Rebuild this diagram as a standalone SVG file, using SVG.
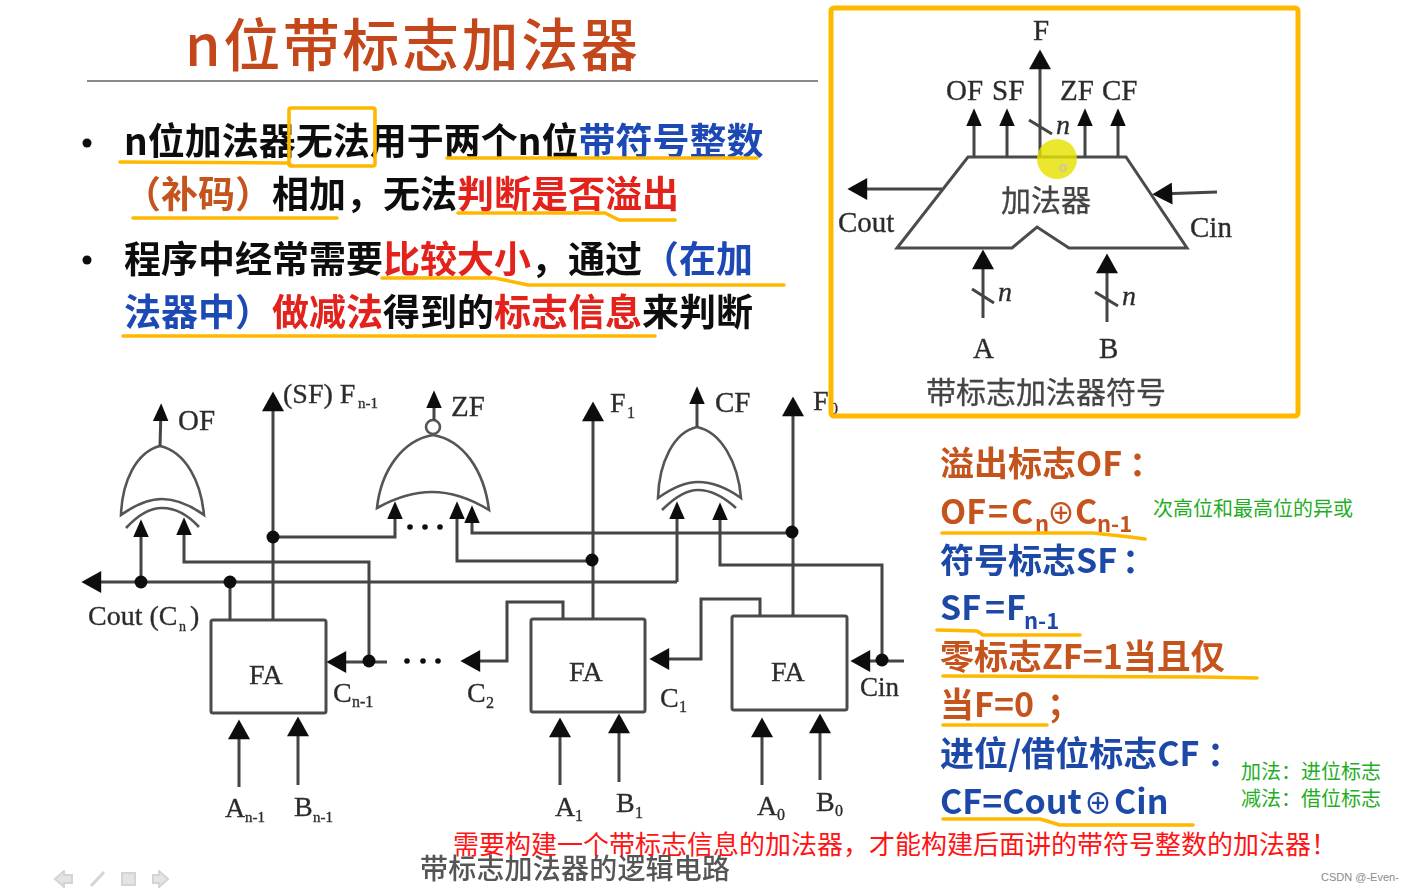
<svg xmlns="http://www.w3.org/2000/svg" width="1411" height="891" viewBox="0 0 1411 891">
<style>
text{font-family:"Noto Sans CJK SC","Noto Sans",sans-serif}
.soft{filter:url(#blur)}
.h{font-size:37px;font-weight:700;fill:#111}
.r{fill:#e3201c}.bl{fill:#1c48b4}.or{fill:#c4531f}
.s{font-family:"Liberation Serif","Noto Sans CJK SC",serif;fill:#2c2c2c;font-size:28px;stroke:#333;stroke-width:.35}
.cn{fill:#444;font-size:30px;stroke:#444;stroke-width:.3}
.f{font-size:34px;font-weight:700}
.fo{fill:#c5521f}.fb{fill:#1f4aa8}
.green{font-size:20px;fill:#1fae1f}
.w{fill:none;stroke:#444;stroke-width:3}
.g{fill:none;stroke:#555;stroke-width:2.6}
.box{fill:#fff;stroke:#4c4c4c;stroke-width:3}
.big{marker-end:url(#big)}
.sm{marker-end:url(#sm)}
.y{fill:none;stroke:#ffb800;stroke-width:3.6;stroke-linecap:round;stroke-linejoin:round}
.d{fill:#111}
</style>
<defs>
<filter id="blur" x="-5%" y="-5%" width="110%" height="110%"><feGaussianBlur stdDeviation="0.6"/></filter>
<marker id="big" markerUnits="userSpaceOnUse" markerWidth="22" markerHeight="22" viewBox="0 0 18 20" refX="12" refY="10" orient="auto"><path d="M0 0L18 10L0 20Z" fill="#111"/></marker>
<marker id="sm" markerUnits="userSpaceOnUse" markerWidth="18" markerHeight="16" viewBox="0 0 16 14" refX="10" refY="7" orient="auto"><path d="M0 0L16 7L0 14Z" fill="#111"/></marker>
</defs>
<rect width="1411" height="891" fill="#fff"/>

<g id="title" class="soft">
<text x="185" y="66" font-size="57" font-weight="500" letter-spacing="2.6" fill="#c4461a">n位带标志加法器</text>
<path d="M87 81H818" stroke="#8a8a8a" stroke-width="2"/>
</g>

<g id="bullets" class="soft">
<circle cx="87" cy="143" r="4.5" fill="#111"/><circle cx="87" cy="260" r="4.5" fill="#111"/>
<text class="h" x="124" y="155">n位加法器无法用于两个n位<tspan class="bl">带符号整数</tspan></text>
<text class="h" x="124" y="208"><tspan class="or">（补码）</tspan>相加，无法<tspan class="r">判断是否溢出</tspan></text>
<text class="h" x="124" y="273">程序中经常需要<tspan class="r">比较大小</tspan>，通过<tspan class="bl">（在加</tspan></text>
<text class="h" x="124" y="326"><tspan class="bl">法器中）</tspan><tspan class="r">做减法</tspan>得到的<tspan class="r">标志信息</tspan>来判断</text>
</g>
<g id="bullet-marks">
<path class="y" d="M120 162L288 163L292 166"/>
<path class="y" d="M447 158H757"/>
<rect class="y" x="289" y="108" width="86" height="58" rx="2"/>
<path class="y" d="M133 218H337"/>
<path class="y" d="M458 213H605L619 220H675"/>
<path class="y" d="M382 278H495L528 285H784"/>
<path class="y" d="M123 336H655"/>
</g>

<g id="symbol" class="soft">
<path d="M968 157H1126L1187 248H1069L1037 227L1012 248H897Z" fill="#fff" stroke="#4c4c4c" stroke-width="3"/>
<text class="cn" x="1001" y="211">加法器</text>
<text class="cn" x="926" y="403">带标志加法器符号</text>
<text class="s" x="1033" y="40" style="font-size:29px">F</text>
<text class="s" x="946" y="100" style="font-size:29px">OF</text>
<text class="s" x="992" y="100" style="font-size:29px">SF</text>
<text class="s" x="1060" y="100" style="font-size:29px">ZF</text>
<text class="s" x="1102" y="100" style="font-size:29px">CF</text>
<text class="s" x="838" y="232" style="font-size:29px">Cout</text>
<text class="s" x="1190" y="237" style="font-size:29px">Cin</text>
<text class="s" x="973" y="358" style="font-size:29px">A</text>
<text class="s" x="1099" y="358" style="font-size:29px">B</text>
<text class="s" x="1056" y="134" font-style="italic">n</text>
<text class="s" x="998" y="301" font-style="italic">n</text>
<text class="s" x="1122" y="305" font-style="italic">n</text>
</g>
<g id="symbol-connectors" class="soft">
<path class="w big" d="M1040 157V56"/>
<path class="w sm" d="M974 157V115"/>
<path class="w sm" d="M1007 157V115"/>
<path class="w sm" d="M1085 157V115"/>
<path class="w sm" d="M1118 157V115"/>
<path class="w big" d="M942 189H854"/>
<path class="w big" d="M1217 192L1159 194"/>
<path class="w big" d="M983 318V256"/>
<path class="w big" d="M1107 322V260"/>
<path class="w" d="M1029 120L1052 134M972 289L994 303M1095 292L1118 306"/>
</g>
<g id="pointer">
<circle cx="1057" cy="159" r="20" fill="#e6e000" opacity="0.82"/>
<circle cx="1063" cy="168" r="3" fill="none" stroke="#cfc890" stroke-width="2"/>
</g>

<g id="circuit-nodes" class="soft">
<g id="gate-of">
<path class="g" d="M160 446C136 452 122 482 121 515C135 505 148 499 162 499C176 499 190 505 204 515C201 482 186 452 160 446Z"/>
<path class="g" d="M126 528C138 515 150 508 162 508C175 508 188 515 199 527"/>
</g>
<g id="gate-zf">
<path class="g" d="M433 435C403 440 381 470 377 508C395 498 413 492 432 492C452 492 471 499 489 510C484 470 463 440 433 435Z"/>
<circle class="g" cx="433" cy="427" r="7"/>
</g>
<g id="gate-cf">
<path class="g" d="M697 427C674 432 659 462 658 498C672 488 685 482 698 482C712 482 727 488 741 498C738 462 721 432 697 427Z"/>
<path class="g" d="M662 510C675 497 687 490 698 490C711 490 724 497 736 508"/>
</g>
<g id="fa-n1"><rect class="box" x="211" y="620" width="115" height="93" rx="2"/><text class="s" x="249" y="684">FA</text></g>
<g id="fa-1"><rect class="box" x="531" y="619" width="114" height="93" rx="2"/><text class="s" x="569" y="681">FA</text></g>
<g id="fa-0"><rect class="box" x="732" y="616" width="115" height="94" rx="2"/><text class="s" x="771" y="681">FA</text></g>
</g>

<g id="connectors" class="soft">
<path class="w sm" d="M160 446L161 410"/>
<path class="w big" d="M273 620V398"/>
<path class="w sm" d="M434 420V397"/>
<path class="w big" d="M593 619V408"/>
<path class="w sm" d="M697 427V393"/>
<path class="w big" d="M793 616V403"/>
<path class="w big" d="M677 582H88"/>
<path class="w sm" d="M677 582V508"/>
<path class="w sm" d="M141 582V526"/>
<path class="w sm" d="M369 661V562H184V524"/>
<path class="w" d="M230 582V620"/>
<path class="w sm" d="M273 537H395V508"/>
<path class="w sm" d="M592 561H457V508"/>
<path class="w sm" d="M792 533H472V512"/>
<path class="w sm" d="M882 660V565H720V509"/>
<path class="w big" d="M387 662H333"/>
<path class="w big" d="M563 619V602H507V661H467"/>
<path class="w big" d="M760 616V599H701V659H656"/>
<path class="w big" d="M904 661H857"/>
<path class="w big" d="M239 787V726"/>
<path class="w big" d="M298 785V723"/>
<path class="w big" d="M560 785V724"/>
<path class="w big" d="M619 782V720"/>
<path class="w big" d="M762 785V724"/>
<path class="w big" d="M820 780V720"/>
<g class="d">
<circle cx="141" cy="582" r="6.5"/><circle cx="230" cy="582" r="6.5"/><circle cx="273" cy="537" r="6.5"/>
<circle cx="369" cy="661" r="6.5"/><circle cx="592" cy="560" r="6.5"/><circle cx="792" cy="532" r="6.5"/><circle cx="882" cy="660" r="6.5"/>
<circle cx="410" cy="527" r="2.8"/><circle cx="425" cy="527" r="2.8"/><circle cx="440" cy="527" r="2.8"/>
<circle cx="407" cy="661" r="2.8"/><circle cx="423" cy="661" r="2.8"/><circle cx="438" cy="661" r="2.8"/>
</g>
</g>

<g id="circuit-labels" class="soft">
<text class="s" x="178" y="430" style="font-size:29px">OF</text>
<text class="s" x="283" y="403">(SF) F</text><text class="s" x="358" y="408" style="font-size:15px">n-1</text>
<text class="s" x="451" y="416" style="font-size:29px">ZF</text>
<text class="s" x="610" y="412">F</text><text class="s" x="627" y="418" style="font-size:16px">1</text>
<text class="s" x="715" y="412" style="font-size:29px">CF</text>
<text class="s" x="813" y="410">F</text><text class="s" x="830" y="414" style="font-size:16px">0</text>
<text class="s" x="88" y="625">Cout (C</text><text class="s" x="179" y="631" style="font-size:14px">n</text><text class="s" x="190" y="625">)</text>
<text class="s" x="333" y="702">C</text><text class="s" x="352" y="707" style="font-size:16px">n-1</text>
<text class="s" x="467" y="702">C</text><text class="s" x="486" y="708" style="font-size:16px">2</text>
<text class="s" x="660" y="707">C</text><text class="s" x="679" y="712" style="font-size:16px">1</text>
<text class="s" x="860" y="696" style="font-size:27px">Cin</text>
<text class="s" x="225" y="817">A</text><text class="s" x="245" y="822" style="font-size:15px">n-1</text>
<text class="s" x="294" y="816">B</text><text class="s" x="313" y="822" style="font-size:15px">n-1</text>
<text class="s" x="555" y="816">A</text><text class="s" x="575" y="821" style="font-size:16px">1</text>
<text class="s" x="616" y="812">B</text><text class="s" x="635" y="818" style="font-size:16px">1</text>
<text class="s" x="757" y="815">A</text><text class="s" x="777" y="820" style="font-size:16px">0</text>
<text class="s" x="816" y="811">B</text><text class="s" x="835" y="816" style="font-size:16px">0</text>
<text x="420" y="879" font-size="28" font-weight="500" letter-spacing=".2" fill="#555">带标志加法器的逻辑电路</text>
</g>

<g id="nav-icons" class="soft" fill="#e4e4e4" stroke="#d4d4d4" stroke-width="2">
<path d="M55 879L64 871V875H72V883H64V887Z"/>
<path d="M91 886L104 872" fill="none" stroke-width="3"/>
<rect x="122" y="873" width="13" height="12"/>
<path d="M168 879L159 871V875H153V883H159V887Z"/>
</g>

<g id="flags" class="soft">
<text class="f fo" x="940" y="476">溢出标志OF<tspan x="1129">：</tspan></text>
<text class="f fo" x="940" y="524">OF<tspan x="988">=</tspan><tspan x="1011">C</tspan><tspan x="1035" y="532" font-size="22">n</tspan><tspan x="1047" y="524" font-size="28" font-weight="500">⊕</tspan><tspan x="1075" y="524">C</tspan><tspan x="1097" y="532" font-size="22">n-1</tspan></text>
<text class="f fb" x="940" y="573">符号标志SF<tspan x="1122">：</tspan></text>
<text class="f fb" x="940" y="620">SF<tspan x="985">=</tspan><tspan x="1006">F</tspan><tspan x="1024" y="629" font-size="22">n-1</tspan></text>
<text class="f fo" x="940" y="669">零标志ZF=1当且仅</text>
<text class="f fo" x="940" y="717">当F=0<tspan x="1047">；</tspan></text>
<text class="f fb" x="940" y="766">进位/借位标志CF<tspan x="1207">：</tspan></text>
<text class="f fb" x="940" y="814">CF=Cout<tspan x="1084" font-size="28" font-weight="500">⊕</tspan><tspan x="1114">Cin</tspan></text>
</g>
<g id="flag-marks">
<path class="y" d="M942 533H1093L1130 537L1145 539"/>
<path class="y" d="M937 630L977 631L983 635H1080"/>
<path class="y" d="M943 676L1203 677L1257 678"/>
<path class="y" d="M943 725H1047"/>
<path class="y" d="M943 819H1040L1060 825H1193"/>
</g>

<g id="notes">
<text class="green" x="1153" y="516">次高位和最高位的异或</text>
<text class="green" x="1241" y="779">加法：进位标志</text>
<text class="green" x="1241" y="806">减法：借位标志</text>
<text x="453" y="854" font-size="26" fill="#ff1414">需要构建一个带标志信息的加法器，才能构建后面讲的带符号整数的加法器！</text>
<text x="1321" y="881" font-size="11" fill="#8a8a8a" style="font-family:'Liberation Sans',sans-serif">CSDN @-Even-</text>
</g>

<rect id="symbol-frame" class="y" x="831" y="8" width="467" height="408" rx="3" style="stroke-width:5"/>
</svg>
